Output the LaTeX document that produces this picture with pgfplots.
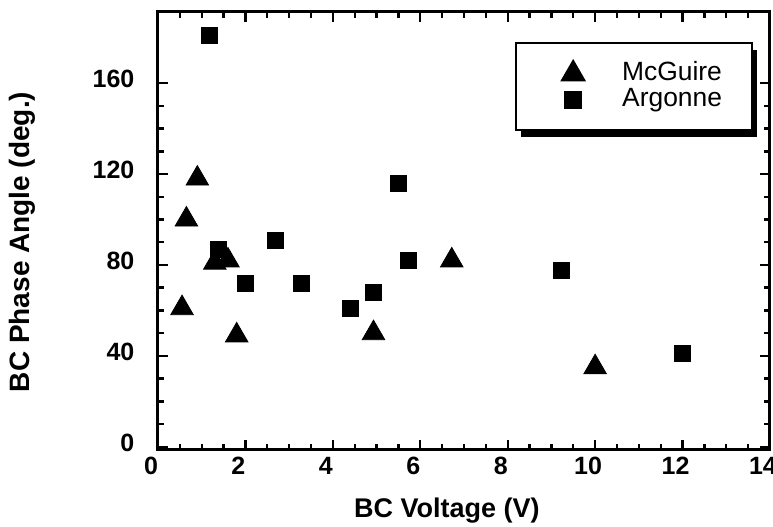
\documentclass[border=0pt]{standalone}
\usepackage{pgfplots}
\pgfplotsset{compat=1.18}
\usepackage{fontspec}
\setmainfont{Liberation Sans}
\usetikzlibrary{shadows}
\begin{document}
\begin{tikzpicture}
\begin{axis}[
  name=ax,
  width=306pt, height=219pt, scale only axis,
  xmin=0, xmax=14, ymin=-1.4, ymax=191.3,
  xtick={0,2,...,14}, ytick={0,40,...,160},
  minor x tick num=3, minor y tick num=3,
  tick align=inside, major tick length=5pt, minor tick length=3pt,
  axis line style={line width=1.5pt},
  every tick/.style={black, line width=1.2pt},
  ticklabel style={font=\bfseries\fontsize{12.5}{14}\selectfont},
  yticklabel style={yshift=2pt, xshift=-8.3pt},
  xticklabel style={xshift=-3.5pt},
  /pgf/number format/assume math mode=true,
  xlabel={BC Voltage (V)}, ylabel={BC Phase Angle (deg.)},
  label style={font=\bfseries\fontsize{13.5}{16}\selectfont},
  xlabel style={at={(axis description cs:0.472,-0.139)}, anchor=center},
  ylabel style={at={(axis description cs:-0.222,0.475)}, anchor=center, font=\bfseries\fontsize{14}{16}\selectfont},
  legend cell align=left,
  legend style={at={(1,1)}, anchor=north east, xshift=-8.5pt, yshift=-15pt,
    draw=black, line width=1pt, fill=white,
    drop shadow={shadow xshift=2.5pt, shadow yshift=-3.5pt, fill=black, opacity=1},
    font=\fontsize{13.2}{15}\selectfont,
    inner xsep=15pt, inner ysep=9pt, row sep=1pt,
    nodes={inner sep=0pt, text height=9.5pt, text depth=2.5pt},
    /tikz/every odd column/.append style={column sep=16pt}},
  legend image code/.code={\pgfpathrectangle{\pgfpoint{-5pt}{-3pt}}{\pgfpoint{22pt}{6pt}}\pgfusepath{discard}\draw[#1] plot coordinates {(8.5pt,0pt)};},
]
\addplot[only marks, mark=triangle*, mark size=6.5pt, black] coordinates {
  (0.55,61) (0.65,100) (0.9,118) (1.3,81) (1.6,82) (1.8,49)
  (4.93,50) (6.72,82) (10.0,35)
};
\addlegendentry{McGuire}
\addplot[only marks, mark=square*, mark size=4pt, black] coordinates {
  (1.17,181) (1.38,87) (2.0,72) (2.68,91) (3.29,72) (4.39,61)
  (4.93,68) (5.5,116) (5.73,82) (9.22,77.5) (12.0,41)
};
\addlegendentry{Argonne}
\end{axis}
\pgfresetboundingbox
\path[use as bounding box] ([xshift=-79pt,yshift=-38.5pt]ax.south west) rectangle ([xshift=1.5pt,yshift=6pt]ax.north east);
\end{tikzpicture}
\end{document}
